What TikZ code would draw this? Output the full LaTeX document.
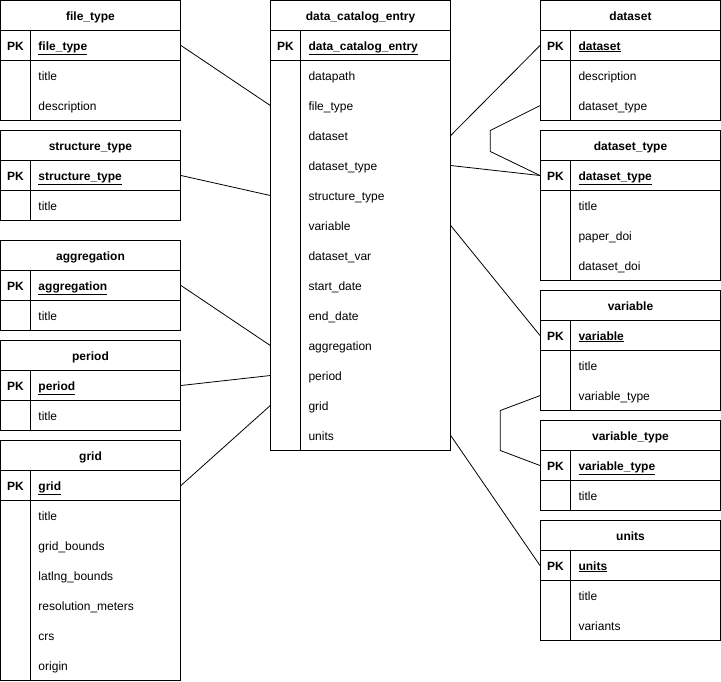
\documentclass[tikz,border=0pt]{standalone}
\usepackage{fontspec}
\setmainfont{Liberation Sans}
\usepackage{tikz}
\usetikzlibrary{positioning}
\tikzset{
  head/.style={
    draw,
    line width=1pt,
    minimum width=180pt,
    minimum height=30pt,
    inner sep=0pt,
    text height=10.5pt,
    text depth=1.5pt,
    font=\fontsize{12}{14}\selectfont\bfseries
  },
  field/.style={
    minimum height=30pt,
    text width=180pt,
    inner xsep=0pt,
    inner ysep=0pt,
    text height=10.5pt,
    text depth=1.5pt,
    align=left,
    font=\fontsize{12}{14}\selectfont,
    execute at begin node={\hspace*{38pt}}
  },
  keyrow/.style={
    field,
    draw,
    line width=1pt,
    font=\fontsize{12}{14}\selectfont\bfseries
  },
  pklabel/.style={inner sep=0pt, text height=10.5pt, text depth=1.5pt, font=\fontsize{12}{14}\selectfont\bfseries},
  body/.style={draw, line width=1pt},
  link/.style={draw, line width=0.8pt}
}
\begin{document}
\begin{tikzpicture}[x=1pt, y=-1pt]
  \useasboundingbox (-0.5,-0.5) rectangle (720.5,680.5);

  % file_type
  \node[head] (ft) at (90,15) {file\_type};
  \node[keyrow] (ft-key) at (90,45) {\underline{file\_type}};
  \node[pklabel] (ft-pk) at (15,45) {PK};
  \draw[body] (0,60) rectangle (180,120) (30,30) -- (30,120);
  \node[field] (ft-title) at (90,75) {title};
  \node[field] (ft-desc) at (90,105) {description};

  % structure_type
  \node[head] (st) at (90,145) {structure\_type};
  \node[keyrow] (st-key) at (90,175) {\underline{structure\_type}};
  \node[pklabel] (st-pk) at (15,175) {PK};
  \draw[body] (0,190) rectangle (180,220) (30,160) -- (30,220);
  \node[field] (st-title) at (90,205) {title};

  % aggregation
  \node[head] (ag) at (90,255) {aggregation};
  \node[keyrow] (ag-key) at (90,285) {\underline{aggregation}};
  \node[pklabel] (ag-pk) at (15,285) {PK};
  \draw[body] (0,300) rectangle (180,330) (30,270) -- (30,330);
  \node[field] (ag-title) at (90,315) {title};

  % period
  \node[head] (pd) at (90,355) {period};
  \node[keyrow] (pd-key) at (90,385) {\underline{period}};
  \node[pklabel] (pd-pk) at (15,385) {PK};
  \draw[body] (0,400) rectangle (180,430) (30,370) -- (30,430);
  \node[field] (pd-title) at (90,415) {title};

  % grid
  \node[head] (gr) at (90,455) {grid};
  \node[keyrow] (gr-key) at (90,485) {\underline{grid}};
  \node[pklabel] (gr-pk) at (15,485) {PK};
  \draw[body] (0,500) rectangle (180,680) (30,470) -- (30,680);
  \node[field] (gr-title) at (90,515) {title};
  \node[field] (gr-gbounds) at (90,545) {grid\_bounds};
  \node[field] (gr-llbounds) at (90,575) {latlng\_bounds};
  \node[field] (gr-res) at (90,605) {resolution\_meters};
  \node[field] (gr-crs) at (90,635) {crs};
  \node[field] (gr-origin) at (90,665) {origin};

  % data_catalog_entry
  \node[head] (dce) at (360,15) {data\_catalog\_entry};
  \node[keyrow] (dce-key) at (360,45) {\underline{data\_catalog\_entry}};
  \node[pklabel] (dce-pk) at (285,45) {PK};
  \draw[body] (270,60) rectangle (450,450) (300,30) -- (300,450);
  \node[field] (dce-datapath) at (360,75) {datapath};
  \node[field] (dce-filetype) at (360,105) {file\_type};
  \node[field] (dce-dataset) at (360,135) {dataset};
  \node[field] (dce-dstype) at (360,165) {dataset\_type};
  \node[field] (dce-sttype) at (360,195) {structure\_type};
  \node[field] (dce-variable) at (360,225) {variable};
  \node[field] (dce-dsvar) at (360,255) {dataset\_var};
  \node[field] (dce-start) at (360,285) {start\_date};
  \node[field] (dce-end) at (360,315) {end\_date};
  \node[field] (dce-aggregation) at (360,345) {aggregation};
  \node[field] (dce-period) at (360,375) {period};
  \node[field] (dce-grid) at (360,405) {grid};
  \node[field] (dce-units) at (360,435) {units};

  % dataset
  \node[head] (ds) at (630,15) {dataset};
  \node[keyrow] (ds-key) at (630,45) {\underline{dataset}};
  \node[pklabel] (ds-pk) at (555,45) {PK};
  \draw[body] (540,60) rectangle (720,120) (570,30) -- (570,120);
  \node[field] (ds-desc) at (630,75) {description};
  \node[field] (ds-dstype) at (630,105) {dataset\_type};

  % dataset_type
  \node[head] (dt) at (630,145) {dataset\_type};
  \node[keyrow] (dt-key) at (630,175) {\underline{dataset\_type}};
  \node[pklabel] (dt-pk) at (555,175) {PK};
  \draw[body] (540,190) rectangle (720,280) (570,160) -- (570,280);
  \node[field] (dt-title) at (630,205) {title};
  \node[field] (dt-paper) at (630,235) {paper\_doi};
  \node[field] (dt-doi) at (630,265) {dataset\_doi};

  % variable
  \node[head] (vr) at (630,305) {variable};
  \node[keyrow] (vr-key) at (630,335) {\underline{variable}};
  \node[pklabel] (vr-pk) at (555,335) {PK};
  \draw[body] (540,350) rectangle (720,410) (570,320) -- (570,410);
  \node[field] (vr-title) at (630,365) {title};
  \node[field] (vr-vtype) at (630,395) {variable\_type};

  % variable_type
  \node[head] (vt) at (630,435) {variable\_type};
  \node[keyrow] (vt-key) at (630,465) {\underline{variable\_type}};
  \node[pklabel] (vt-pk) at (555,465) {PK};
  \draw[body] (540,480) rectangle (720,510) (570,450) -- (570,510);
  \node[field] (vt-title) at (630,495) {title};

  % units
  \node[head] (un) at (630,535) {units};
  \node[keyrow] (un-key) at (630,565) {\underline{units}};
  \node[pklabel] (un-pk) at (555,565) {PK};
  \draw[body] (540,580) rectangle (720,640) (570,550) -- (570,640);
  \node[field] (un-title) at (630,595) {title};
  \node[field] (un-variants) at (630,625) {variants};

  % relations
  \draw[link] (ft-key.east) -- (dce-filetype.west);
  \draw[link] (st-key.east) -- (dce-sttype.west);
  \draw[link] (ag-key.east) -- (dce-aggregation.west);
  \draw[link] (pd-key.east) -- (dce-period.west);
  \draw[link] (gr-key.east) -- (dce-grid.west);
  \draw[link] (dce-dataset.east) -- (ds-key.west);
  \draw[link] (dce-dstype.east) -- (dt-key.west);
  \draw[link] (dce-variable.east) -- (vr-key.west);
  \draw[link] (dce-units.east) -- (un-key.west);
  \draw[link] (ds-dstype.west) -- ++(-50,25) -- ++(0,21) -- (dt-key.west);
  \draw[link] (vr-vtype.west) -- ++(-40,15) -- ++(0,40) -- (vt-key.west);
\end{tikzpicture}
\end{document}
